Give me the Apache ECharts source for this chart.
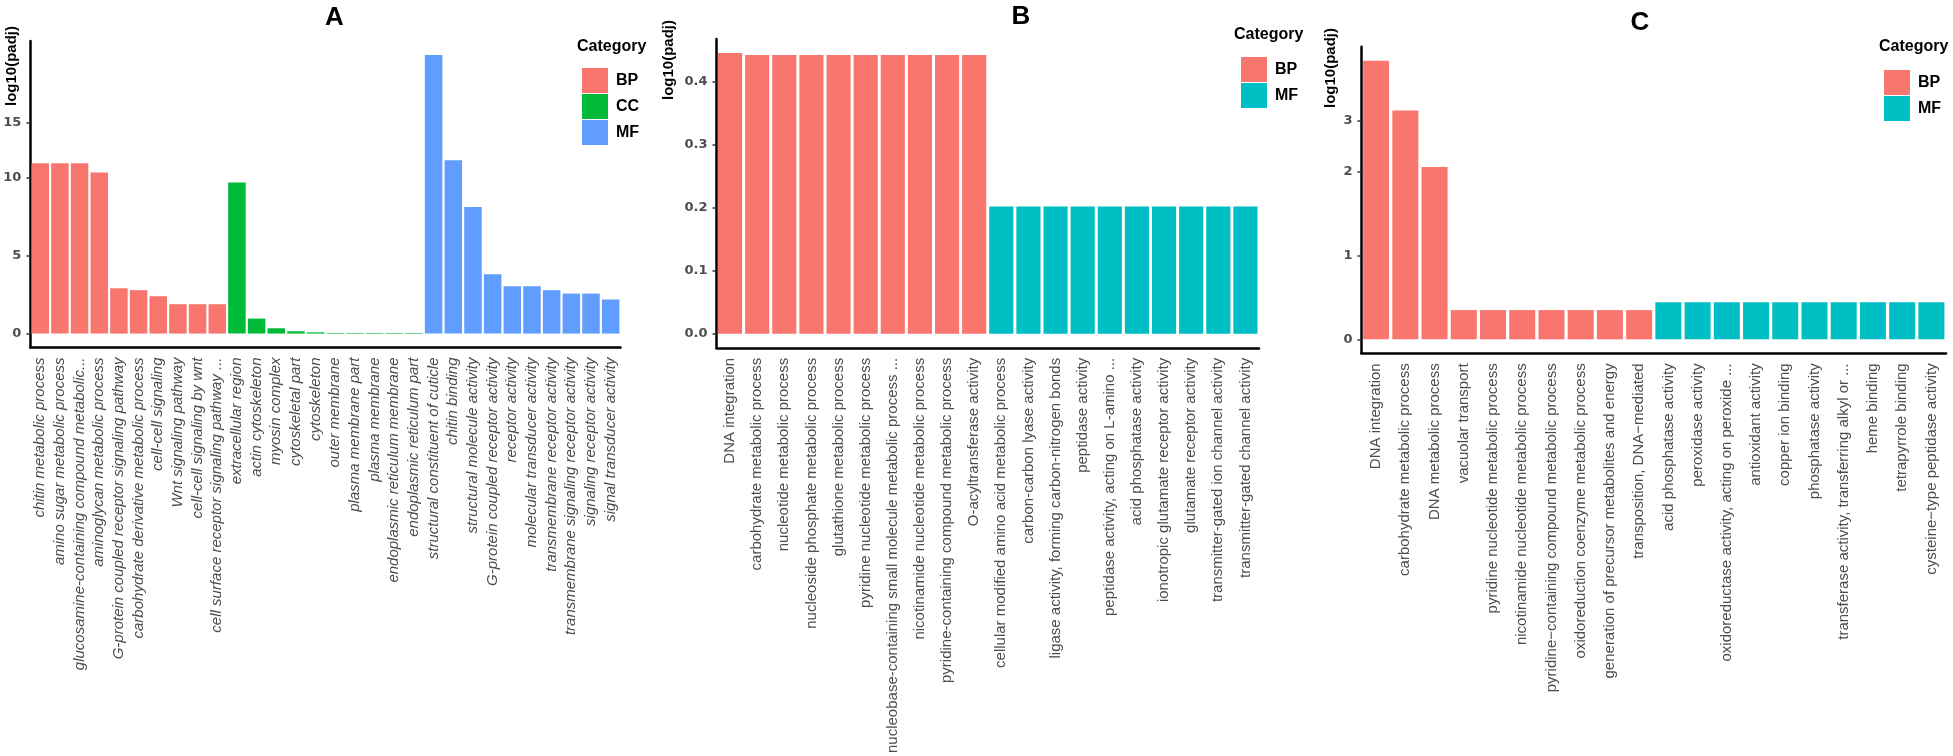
<!DOCTYPE html>
<html><head><meta charset="utf-8">
<script src="https://cdn.jsdelivr.net/npm/echarts@6/dist/echarts.min.js"></script>
<style>
html,body{margin:0;padding:0;background:#fff;}
.p{position:absolute;left:0;top:0;width:1953px;height:756px;}
</style></head><body>
<div id="pa" class="p"></div><div id="pb" class="p"></div><div id="pc" class="p"></div>
<script>
// ---------- Panel A ----------
const A_terms = [
  'chitin metabolic process','amino sugar metabolic process','glucosamine-containing compound metabolic...',
  'aminoglycan metabolic process','G-protein coupled receptor signaling pathway','carbohydrate derivative metabolic process',
  'cell-cell signaling','Wnt signaling pathway','cell-cell signaling by wnt','cell surface receptor signaling pathway ...',
  'extracellular region','actin cytoskeleton','myosin complex','cytoskeletal part','cytoskeleton','outer membrane',
  'plasma membrane part','plasma membrane','endoplasmic reticulum membrane','endoplasmic reticulum part',
  'structural constituent of cuticle','chitin binding','structural molecule activity','G-protein coupled receptor activity',
  'receptor activity','molecular transducer activity','transmembrane receptor activity',
  'transmembrane signaling receptor activity','signaling receptor activity','signal transducer activity'
];
const A_cat = ['BP','BP','BP','BP','BP','BP','BP','BP','BP','BP',
               'CC','CC','CC','CC','CC','CC','CC','CC','CC','CC',
               'MF','MF','MF','MF','MF','MF','MF','MF','MF','MF'];
const A_vals = [10.9,10.9,10.9,10.32,2.9,2.78,2.39,1.88,1.88,1.88,
                9.68,0.96,0.34,0.15,0.08,0.04,0.04,0.04,0.04,0.04,
                17.84,11.09,8.1,3.8,3.03,3.03,2.78,2.56,2.56,2.18];
// tick positions as they sit on the reference's axis, and the labels printed there
const A_ytick_vals = [0,5,10,13.5];
const A_ytick_labels = ['0','5','10','15'];

// ---------- Panel B ----------
const B_terms = [
  'DNA integration','carbohydrate metabolic process','nucleotide metabolic process','nucleoside phosphate metabolic process',
  'glutathione metabolic process','pyridine nucleotide metabolic process',
  'nucleobase-containing small molecule metabolic process ...','nicotinamide nucleotide metabolic process',
  'pyridine-containing compound metabolic process','O-acyltransferase activity',
  'cellular modified amino acid metabolic process','carbon-carbon lyase activity',
  'ligase activity, forming carbon-nitrogen bonds','peptidase activity','peptidase activity, acting on L-amino ...',
  'acid phosphatase activity','ionotropic glutamate receptor activity','glutamate receptor activity',
  'transmitter-gated ion channel activity','transmitter-gated channel activity'
];
const B_cat = ['BP','BP','BP','BP','BP','BP','BP','BP','BP','BP',
               'MF','MF','MF','MF','MF','MF','MF','MF','MF','MF'];
const B_vals = [0.446,0.443,0.443,0.443,0.443,0.443,0.443,0.443,0.443,0.443,
                0.202,0.202,0.202,0.202,0.202,0.202,0.202,0.202,0.202,0.202];
const B_ytick_vals = [0,0.1,0.2,0.3,0.4];
const B_ytick_labels = ['0.0','0.1','0.2','0.3','0.4'];

// ---------- Panel C ----------
const C_terms = [
  'DNA integration','carbohydrate metabolic process','DNA metabolic process','vacuolar transport',
  'pyridine nucleotide metabolic process','nicotinamide nucleotide metabolic process',
  'pyridine\u2212containing compound metabolic process','oxidoreduction coenzyme metabolic process',
  'generation of precursor metabolites and energy','transposition, DNA\u2212mediated',
  'acid phosphatase activity','peroxidase activity','oxidoreductase activity, acting on peroxide ...',
  'antioxidant activity','copper ion binding','phosphatase activity',
  'transferase activity, transferring alkyl or ...','heme binding','tetrapyrrole binding',
  'cysteine\u2212type peptidase activity'
];
const C_cat = ['BP','BP','BP','BP','BP','BP','BP','BP','BP','BP',
               'MF','MF','MF','MF','MF','MF','MF','MF','MF','MF'];
const C_vals = [3.333,2.736,2.06,0.35,0.35,0.35,0.35,0.35,0.35,0.35,
                0.445,0.445,0.445,0.445,0.445,0.445,0.445,0.445,0.445,0.445];
const C_ytick_vals = [0,1,2,2.62];
const C_ytick_labels = ['0','1','2','3'];

const W = 1953, H = 756;

function panel(id, o) {
  const chart = echarts.init(document.getElementById(id), null, {renderer:'canvas', width:W, height:H});
  const maxV = Math.max.apply(null, o.vals);
  const series = o.legend.map(c => ({
    name: c, type: 'bar', barWidth: '89%', barGap: '-100%',
    itemStyle: {color: o.colors[c]},
    data: o.vals.map((v, i) => o.cat[i] === c ? v : '-')
  }));
  chart.setOption({
    animation: false,
    backgroundColor: 'transparent',
    grid: {left: o.box[0], top: o.box[1], right: W - o.box[2], bottom: H - o.box[3], containLabel: false},
    xAxis: {
      type: 'category', data: o.terms,
      axisLine: {onZero: false, lineStyle: {color: '#000', width: 2.5}},
      axisTick: {alignWithLabel: true, length: 5, lineStyle: {color: '#333', width: 1.5}},
      axisLabel: {interval: 0, rotate: 90, margin: 10, fontSize: 15, color: '#4D4D4D',
                  fontFamily: 'Liberation Sans', fontStyle: o.italic ? 'italic' : 'normal'}
    },
    yAxis: {
      type: 'value', min: -0.05 * maxV, max: 1.05 * maxV,
      splitLine: {show: false},
      axisLine: {show: true, lineStyle: {color: '#000', width: 2.5}},
      axisTick: {show: true, length: 4, customValues: o.tv, lineStyle: {color: '#333', width: 1.5}},
      axisLabel: {customValues: o.tv, formatter: v => { const k = o.tv.indexOf(v); return k >= 0 ? o.tl[k] : ''; },
                  margin: 9, fontSize: 13, fontWeight: 'bold', color: '#4D4D4D', fontFamily: 'DejaVu Sans'}
    },
    legend: {
      orient: 'vertical', left: o.leg[0], top: o.leg[1], itemWidth: 26, itemHeight: 25, itemGap: 1,
      icon: 'rect', selectedMode: false, data: o.legend,
      textStyle: {fontSize: 16, fontWeight: 'bold', color: '#000', fontFamily: 'Liberation Sans Narrow, Liberation Sans', padding: [0,0,0,3]}
    },
    graphic: [
      {type: 'text', x: o.title[0], y: o.title[1],
       style: {text: o.letter, font: 'bold 26px "Liberation Sans"', fill: '#000', textAlign: 'center', textVerticalAlign: 'middle'}},
      {type: 'text', x: o.ytitle[0], y: o.ytitle[1], rotation: Math.PI / 2,
       style: {text: 'log10(padj)', font: 'bold 15px "Liberation Sans"', fill: '#000', textAlign: 'center', textVerticalAlign: 'middle'}},
      {type: 'text', x: o.cattitle[0], y: o.cattitle[1],
       style: {text: 'Category', font: 'bold 16px "Liberation Sans Narrow", "Liberation Sans"', fill: '#000', textAlign: 'left', textVerticalAlign: 'middle'}}
    ],
    series: series
  });
}

panel('pa', {
  terms: A_terms, cat: A_cat, vals: A_vals, tv: A_ytick_vals, tl: A_ytick_labels, legend: ['BP','CC','MF'],
  colors: {BP: '#F8766D', CC: '#00BA38', MF: '#619CFF'}, italic: true,
  box: [30.4, 41, 620.5, 347.5], leg: [577, 63], title: [334.5, 18], ytitle: [12, 66], cattitle: [577, 47], letter: 'A'
});
panel('pb', {
  terms: B_terms, cat: B_cat, vals: B_vals, tv: B_ytick_vals, tl: B_ytick_labels, legend: ['BP','MF'],
  colors: {BP: '#F8766D', MF: '#00BFC4'}, italic: false,
  box: [716.5, 39, 1259, 352.5], leg: [1236, 52], title: [1021, 17], ytitle: [669, 60], cattitle: [1234, 35], letter: 'B'
});
panel('pc', {
  terms: C_terms, cat: C_cat, vals: C_vals, tv: C_ytick_vals, tl: C_ytick_labels, legend: ['BP','MF'],
  colors: {BP: '#F8766D', MF: '#00BFC4'}, italic: false,
  box: [1361.5, 46.7, 1946, 353.3], leg: [1879, 65], title: [1640, 23], ytitle: [1331, 68], cattitle: [1879, 47], letter: 'C'
});
</script>
</body></html>
